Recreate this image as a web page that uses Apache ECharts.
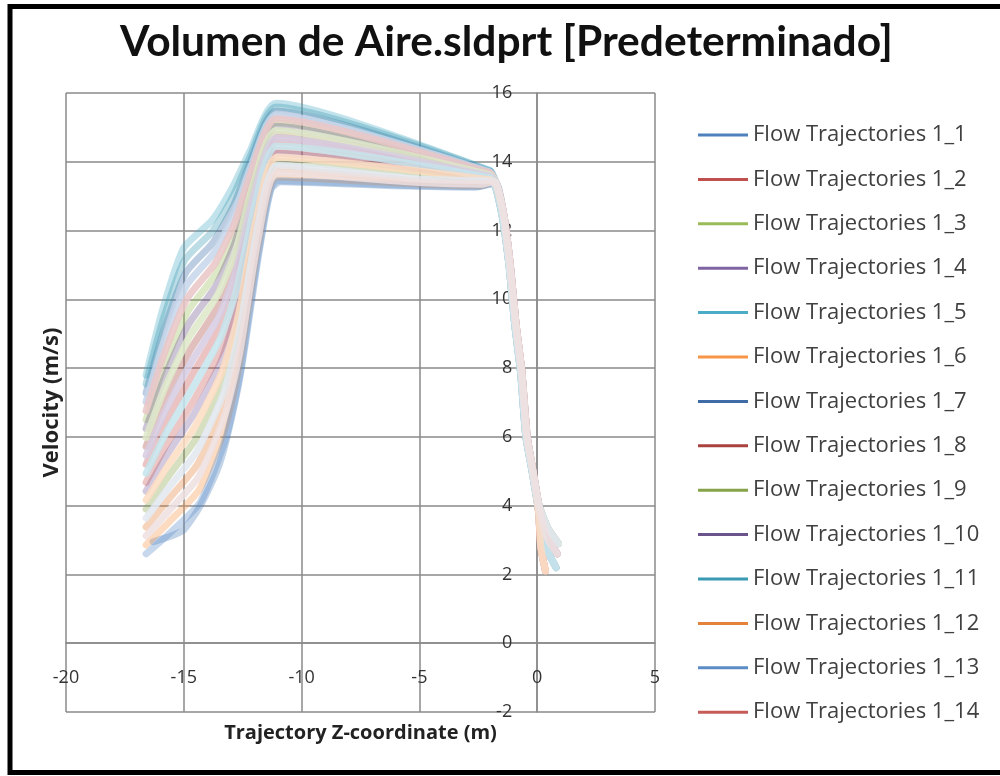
<!DOCTYPE html>
<html>
<head>
<meta charset="utf-8">
<script src="https://cdn.jsdelivr.net/npm/echarts@6/dist/echarts.min.js"></script>
<style>
html,body{margin:0;padding:0;background:#fff;}
#chart{width:1000px;height:776px;}
</style>
</head>
<body>
<div id="chart"></div>
<script>
// ---- Data ----
const chartTitle = 'Volumen de Aire.sldprt [Predeterminado]';
const xAxisName = 'Trajectory Z-coordinate (m)';
const yAxisName = 'Velocity (m/s)';
const xTicks = { min: -20, max: 5, step: 5 };
const yTicks = { min: -2, max: 16, step: 2 };

// Rising + plateau part of each trajectory [z, velocity]
const h00 = [[-16.6,7.8],[-15.9,9.7],[-15.0,11.5],[-13.8,12.3],[-12.9,13.3],[-12.2,14.3],[-11.1,15.7],[-2.0,13.75]];
const h05 = [[-16.6,7.54],[-15.89,9.38],[-14.97,11.13],[-13.77,11.99],[-12.89,13.03],[-12.18,14.16],[-11.1,15.59],[-2.0,13.74]];
const h10 = [[-16.6,7.28],[-15.87,9.05],[-14.93,10.76],[-13.74,11.67],[-12.87,12.76],[-12.16,14.02],[-11.09,15.48],[-2.0,13.72]];
const h15 = [[-16.6,7.02],[-15.86,8.73],[-14.9,10.39],[-13.71,11.36],[-12.86,12.49],[-12.14,13.88],[-11.09,15.36],[-2.0,13.7]];
const h20 = [[-16.6,6.76],[-15.84,8.4],[-14.86,10.02],[-13.68,11.04],[-12.84,12.22],[-12.12,13.74],[-11.08,15.25],[-2.0,13.68]];
const h25 = [[-16.6,6.5],[-15.83,8.08],[-14.83,9.65],[-13.65,10.73],[-12.83,11.95],[-12.1,13.6],[-11.08,15.14],[-2.0,13.66]];
const h30 = [[-16.6,6.24],[-15.81,7.75],[-14.79,9.28],[-13.62,10.41],[-12.81,11.68],[-12.08,13.46],[-11.07,15.03],[-2.0,13.64]];
const h35 = [[-16.6,5.98],[-15.8,7.43],[-14.76,8.91],[-13.59,10.1],[-12.8,11.41],[-12.06,13.32],[-11.07,14.91],[-2.0,13.62]];
const h40 = [[-16.6,5.72],[-15.78,7.1],[-14.72,8.54],[-13.56,9.78],[-12.78,11.14],[-12.04,13.18],[-11.06,14.8],[-2.0,13.6]];
const h45 = [[-16.6,5.46],[-15.77,6.78],[-14.69,8.17],[-13.53,9.47],[-12.77,10.87],[-12.02,13.04],[-11.06,14.69],[-2.0,13.58]];
const h50 = [[-16.6,5.2],[-15.75,6.45],[-14.65,7.8],[-13.5,9.15],[-12.75,10.6],[-12.0,12.9],[-11.05,14.58],[-2.0,13.56]];
const h55 = [[-16.6,4.94],[-15.74,6.13],[-14.62,7.43],[-13.47,8.84],[-12.74,10.33],[-11.98,12.76],[-11.05,14.46],[-2.0,13.54]];
const h60 = [[-16.6,4.68],[-15.72,5.8],[-14.58,7.06],[-13.44,8.52],[-12.72,10.06],[-11.96,12.62],[-11.04,14.35],[-2.0,13.52]];
const h65 = [[-16.6,4.42],[-15.71,5.48],[-14.55,6.69],[-13.41,8.21],[-12.71,9.79],[-11.94,12.48],[-11.04,14.24],[-2.0,13.5]];
const h70 = [[-16.6,4.16],[-15.69,5.15],[-14.51,6.32],[-13.38,7.89],[-12.69,9.52],[-11.92,12.34],[-11.03,14.13],[-2.0,13.48]];
const h75 = [[-16.6,3.9],[-15.68,4.83],[-14.48,5.95],[-13.35,7.58],[-12.68,9.25],[-11.9,12.2],[-11.03,14.01],[-2.0,13.46]];
const h80 = [[-16.6,3.64],[-15.66,4.5],[-14.44,5.58],[-13.32,7.26],[-12.66,8.98],[-11.88,12.06],[-11.02,13.9],[-5.0,13.5],[-2.0,13.44]];
const h85 = [[-16.6,3.38],[-15.65,4.18],[-14.41,5.21],[-13.29,6.95],[-12.65,8.71],[-11.86,11.92],[-11.02,13.79],[-5.0,13.45],[-2.0,13.42]];
const h90 = [[-16.6,3.12],[-15.63,3.85],[-14.37,4.84],[-13.26,6.63],[-12.63,8.44],[-11.84,11.78],[-11.01,13.68],[-5.0,13.4],[-2.3,13.35],[-2.0,13.4]];
const h95 = [[-16.6,2.86],[-15.62,3.53],[-14.34,4.47],[-13.23,6.32],[-12.62,8.17],[-11.82,11.64],[-11.01,13.56],[-5.0,13.35],[-2.4,13.3],[-2.0,13.38]];
const h100 = [[-16.6,2.6],[-15.6,3.2],[-14.3,4.1],[-13.2,6.0],[-12.6,7.9],[-11.8,11.5],[-11.0,13.45],[-5.0,13.3],[-2.5,13.28],[-2.0,13.36]];
const hBlue = [[-16.3,2.95],[-15.6,3.1],[-15.0,3.3],[-14.3,4.0],[-13.6,5.0],[-13.2,5.9],[-12.6,7.8],[-11.8,11.4],[-11.3,13.2],[-10.9,13.42],[-6.0,13.3],[-2.6,13.26],[-2.0,13.35]];

// Steep drop part (near z = 0) of the trajectories
const tailA = [[-1.75,13.4],[-1.45,12.5],[-1.18,11.0],[-0.93,9.3],[-0.68,7.9],[-0.45,6.0],[-0.2,5.0],[0.08,4.0],[0.45,3.35],[0.9,2.9]];
const tailB = [[-1.72,13.35],[-1.4,12.4],[-1.14,11.0],[-0.9,9.3],[-0.65,7.9],[-0.42,6.0],[-0.17,5.0],[0.1,3.9],[0.4,3.1],[0.85,2.6]];
const tailC = [[-1.78,13.3],[-1.48,12.4],[-1.2,11.0],[-0.96,9.3],[-0.71,7.9],[-0.48,6.0],[-0.22,5.0],[0.05,3.9],[0.3,2.9],[0.8,2.2]];
const tailD = [[-1.76,13.38],[-1.43,12.45],[-1.16,11.0],[-0.91,9.3],[-0.66,7.9],[-0.44,6.0],[-0.18,5.0],[0.06,3.8],[0.15,2.8],[0.35,2.1]];

// Trajectory order (series 1_1 ... 1_22)
const trajHeads = [hBlue, h50, h25, h65, h00, h95, h10, h40, h75, h30, h05, h85, h100, h60,
                   h15, h20, h35, h45, h55, h70, h80, h90];
const trajTails = [tailB, tailA, tailC, tailD, tailA, tailB, tailC, tailD, tailA, tailB, tailC, tailD, tailA, tailB,
                   tailC, tailD, tailA, tailB, tailC, tailD, tailA, tailB];
const trajNames = trajHeads.map((_, i) => 'Flow Trajectories 1_' + (i + 1));
const legendCount = 14;

// ---- Styles ----
const palette = ['#4F81BD','#C0504D','#9BBB59','#8064A2','#4BACC6','#F79646',
                 '#3F6CA6','#A8423F','#86A34A','#6B548B','#3B9AB3','#E4823A',
                 '#5B8CC6','#C65B58',
                 '#C6D6EA','#EAC6C5','#DDE8C8','#D6CDE2','#C6E4EC','#FBDCC2','#E2E8F0','#EEDFDF'];
const titleFont = 'Lato, "Open Sans", sans-serif';
const font = '"Open Sans", Lato, sans-serif';
const gridColor = '#8a8a8a';
const gridBox = { left: 66, right: 345, top: 93, bottom: 64 };

const series = trajHeads.map((h, i) => ({
  name: trajNames[i],
  type: 'line',
  data: h.concat(trajTails[i]),
  showSymbol: false,
  symbol: 'none',
  smooth: 0.2,
  color: palette[i],
  lineStyle: { width: 7, color: palette[i], opacity: i < legendCount ? 0.34 : 0.85, join: 'round', cap: 'round' },
  emphasis: { disabled: true }
}));

const chart = echarts.init(document.getElementById('chart'), null, { renderer: 'canvas' });
chart.setOption({
  animation: false,
  backgroundColor: '#ffffff',
  title: {
    text: chartTitle, left: 115, top: 16,
    textStyle: { fontFamily: titleFont, fontWeight: 'bold', fontSize: 42.5, color: '#111' }
  },
  graphic: [{
    type: 'rect', silent: true, z: 100,
    shape: { x: 10, y: 6.5, width: 1000, height: 766 },
    style: { fill: 'none', stroke: '#000', lineWidth: 5 }
  }],
  legend: {
    data: trajNames.slice(0, legendCount),
    orient: 'vertical', left: 693, top: 119,
    icon: 'rect', itemWidth: 50, itemHeight: 3, itemGap: 22.4,
    itemStyle: { opacity: 1 },
    textStyle: { fontFamily: font, fontSize: 22, lineHeight: 22, color: '#404040' }
  },
  grid: Object.assign({ outerBoundsMode: 'none', containLabel: false }, gridBox),
  xAxis: {
    type: 'value', min: xTicks.min, max: xTicks.max, interval: xTicks.step,
    axisLine: { onZero: false, lineStyle: { color: gridColor, width: 1.5 } },
    axisTick: { show: false },
    splitLine: { lineStyle: { color: gridColor, width: 1.5 } },
    axisLabel: { margin: 26, fontFamily: font, fontSize: 18, color: '#333' },
    name: xAxisName, nameLocation: 'middle', nameGap: 80,
    nameTextStyle: { fontFamily: font, fontWeight: 'bold', fontSize: 20, color: '#222' }
  },
  yAxis: {
    type: 'value', min: yTicks.min, max: yTicks.max, interval: yTicks.step,
    axisLine: { onZero: false, lineStyle: { color: gridColor, width: 1.5 } },
    axisTick: { show: false },
    splitLine: { lineStyle: { color: gridColor, width: 1.5 } },
    axisLabel: { margin: 25, fontFamily: font, fontSize: 18, color: '#333' },
    name: yAxisName, nameLocation: 'middle', nameGap: 474,
    nameTextStyle: { fontFamily: font, fontWeight: 'bold', fontSize: 22, color: '#222' }
  },
  series: series
});

// Place both axes through the origin (Excel style), using the library's own scales.
const origin = chart.convertToPixel({ gridIndex: 0 }, [0, 0]);
const gridBottomY = 776 - gridBox.bottom;
chart.setOption({
  xAxis: { offset: origin[1] - gridBottomY },
  yAxis: { offset: gridBox.left - origin[0] }
});
</script>
</body>
</html>
